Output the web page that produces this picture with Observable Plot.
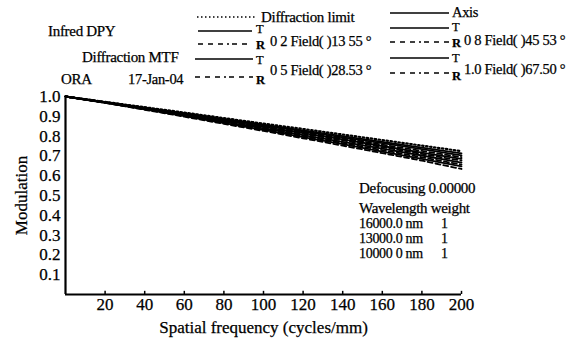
<!DOCTYPE html>
<html>
<head>
<meta charset="utf-8">
<script src="https://cdn.jsdelivr.net/npm/d3@7"></script>
<script src="https://cdn.jsdelivr.net/npm/@observablehq/plot@0.6"></script>
<style>
  html, body { margin: 0; padding: 0; background: #fff; }
  #wrap { position: relative; width: 586px; height: 345px; }
  #wrap svg { position: absolute; left: 0; top: 0; }
  #wrap svg text { stroke: #000; stroke-width: 0.25px; }
  .serif { font-family: "Liberation Serif", "DejaVu Serif", serif; fill: #000; }
</style>
</head>
<body>
<div id="wrap"></div>
<script>
// ---- data ----
const freqs = [0, 20, 40, 60, 80, 100, 120, 140, 160, 180, 200];
const xTicks = [20, 40, 60, 80, 100, 120, 140, 160, 180, 200];
const yTicks = [0.1, 0.2, 0.3, 0.4, 0.5, 0.6, 0.7, 0.8, 0.9, 1.0];

const diffLimit = [1.0, 0.973, 0.946, 0.919, 0.891, 0.863, 0.836, 0.808, 0.780, 0.752, 0.724];
const axisT     = [1.0, 0.972, 0.944, 0.916, 0.887, 0.858, 0.829, 0.800, 0.771, 0.742, 0.713];
const f02T      = [1.0, 0.971, 0.942, 0.913, 0.883, 0.854, 0.824, 0.794, 0.764, 0.734, 0.703];
const f02R      = [1.0, 0.971, 0.941, 0.911, 0.881, 0.851, 0.820, 0.789, 0.757, 0.725, 0.694];
const f05T      = [1.0, 0.970, 0.940, 0.909, 0.878, 0.847, 0.815, 0.783, 0.750, 0.717, 0.685];
const f05R      = [1.0, 0.970, 0.939, 0.907, 0.875, 0.843, 0.811, 0.778, 0.744, 0.710, 0.676];
const f08T      = [1.0, 0.969, 0.937, 0.905, 0.872, 0.839, 0.805, 0.771, 0.737, 0.702, 0.666];
const f08R      = [1.0, 0.969, 0.936, 0.903, 0.869, 0.835, 0.800, 0.765, 0.729, 0.693, 0.656];
const f10T      = [1.0, 0.968, 0.935, 0.901, 0.866, 0.831, 0.795, 0.759, 0.722, 0.685, 0.647];
const f10R      = [1.0, 0.968, 0.933, 0.898, 0.862, 0.826, 0.789, 0.752, 0.714, 0.676, 0.634];

const seriesDefs = [
  {name: "Diffraction limit", style: "dotted", values: diffLimit},
  {name: "Axis", style: "solid", values: axisT},
  {name: "0.2 T", style: "solid", values: f02T},
  {name: "0.2 R", style: "dashed", values: f02R},
  {name: "0.5 T", style: "solid", values: f05T},
  {name: "0.5 R", style: "dashed", values: f05R},
  {name: "0.8 T", style: "solid", values: f08T},
  {name: "0.8 R", style: "dashed", values: f08R},
  {name: "1.0 T", style: "solid", values: f10T},
  {name: "1.0 R", style: "dashed", values: f10R}
];

const rows = seriesDefs.flatMap(s => s.values.map((v, i) => ({series: s.name, style: s.style, freq: freqs[i], value: v})));

const FONT = '"Liberation Serif", "DejaVu Serif", serif';

const chart = Plot.plot({
  width: 586,
  height: 345,
  marginLeft: 65,
  marginRight: 125,
  marginTop: 96,
  marginBottom: 51,
  style: {fontFamily: FONT, fontSize: "17px", background: "transparent", color: "#000", overflow: "visible"},
  x: {domain: [0, 200], label: null},
  y: {domain: [0, 1], label: null},
  marks: [
    Plot.line(rows.filter(d => d.style === "solid"), {x: "freq", y: "value", z: "series", stroke: "#000", strokeWidth: 1.8}),
    Plot.line(rows.filter(d => d.style === "dashed"), {x: "freq", y: "value", z: "series", stroke: "#000", strokeWidth: 1.8, strokeDasharray: "5,3"}),
    Plot.line(rows.filter(d => d.style === "dotted"), {x: "freq", y: "value", z: "series", stroke: "#000", strokeWidth: 2.2, strokeDasharray: "1.5,2.5"}),
    Plot.ruleX(xTicks, {y1: 0, y2: 0.016, stroke: "#000", strokeWidth: 1.5}),
    Plot.ruleX([0], {y1: 0, y2: 1, stroke: "#000", strokeWidth: 2.2}),
    Plot.ruleY([0], {x1: 0, x2: 200, stroke: "#000", strokeWidth: 2.2}),
    Plot.axisX({ticks: xTicks, tickSize: 0, tickPadding: 3, fontSize: 17,
      label: "Spatial frequency (cycles/mm)", labelAnchor: "center", labelArrow: "none", labelOffset: 38}),
    Plot.axisY({ticks: yTicks, tickSize: 0, tickPadding: 5, fontSize: 17, tickFormat: d => d.toFixed(1),
      label: "Modulation", labelAnchor: "center", labelArrow: "none", labelOffset: 51})
  ]
});

const wrap = document.getElementById("wrap");
wrap.appendChild(chart);

// ---- legend / annotation overlay ----
const legendTexts = [
  {t: "Infred DPY", x: 48, y: 36, s: 15},
  {t: "Diffraction MTF", x: 82, y: 62, s: 15},
  {t: "ORA", x: 61, y: 84, s: 15},
  {t: "17-Jan-04", x: 128, y: 84, s: 14.5},
  {t: "Diffraction limit", x: 261, y: 22, s: 15},
  {t: "Axis", x: 452, y: 17, s: 14.5},
  {t: "0 2  Field( )13 55  \u00B0", x: 270, y: 46, s: 14.5},
  {t: "0 5  Field( )28.53  \u00B0", x: 270, y: 75, s: 14.5},
  {t: "0 8  Field( )45 53  \u00B0", x: 464, y: 45, s: 14.5},
  {t: "1.0  Field( )67.50  \u00B0", x: 464, y: 74, s: 14.5},
  {t: "Defocusing 0.00000", x: 359, y: 193, s: 15},
  {t: "Wavelength weight", x: 359, y: 213, s: 15},
  {t: "16000.0 nm", x: 359, y: 228, s: 14},
  {t: "13000.0 nm", x: 359, y: 243, s: 14},
  {t: "10000 0 nm", x: 359, y: 258, s: 14},
  {t: "1", x: 441, y: 228, s: 14},
  {t: "1", x: 441, y: 243, s: 14},
  {t: "1", x: 441, y: 258, s: 14}
];
const tr = [
  {t: "T", x: 256, y: 33}, {t: "R", x: 256, y: 49},
  {t: "T", x: 256, y: 64}, {t: "R", x: 256, y: 84},
  {t: "T", x: 452, y: 31}, {t: "R", x: 452, y: 47},
  {t: "T", x: 452, y: 62}, {t: "R", x: 452, y: 80}
];
const DASH = "5,5,5,5,5,4,2,3";
const legendLines = [
  {x1: 197, x2: 257, y: 17, dash: "1.5,2.5"},
  {x1: 198, x2: 252, y: 31, dash: null},
  {x1: 198, x2: 252, y: 44, dash: DASH},
  {x1: 195, x2: 253, y: 59, dash: null},
  {x1: 195, x2: 253, y: 77, dash: DASH},
  {x1: 390, x2: 449, y: 13, dash: null},
  {x1: 390, x2: 449, y: 28, dash: null},
  {x1: 390, x2: 449, y: 42, dash: DASH},
  {x1: 390, x2: 449, y: 58, dash: null},
  {x1: 390, x2: 449, y: 73, dash: DASH}
];

const ns = "http://www.w3.org/2000/svg";
const ov = document.createElementNS(ns, "svg");
ov.setAttribute("width", 586);
ov.setAttribute("height", 345);
for (const l of legendLines) {
  const e = document.createElementNS(ns, "line");
  e.setAttribute("x1", l.x1); e.setAttribute("x2", l.x2);
  e.setAttribute("y1", l.y); e.setAttribute("y2", l.y);
  e.setAttribute("stroke", "#000");
  e.setAttribute("stroke-width", 1.7);
  if (l.dash) e.setAttribute("stroke-dasharray", l.dash);
  ov.appendChild(e);
}
for (const d of legendTexts) {
  const e = document.createElementNS(ns, "text");
  e.setAttribute("x", d.x); e.setAttribute("y", d.y);
  e.setAttribute("class", "serif");
  e.setAttribute("font-size", d.s);
  e.setAttribute("letter-spacing", "-0.3");
  e.textContent = d.t;
  ov.appendChild(e);
}
for (const d of tr) {
  const e = document.createElementNS(ns, "text");
  e.setAttribute("x", d.x); e.setAttribute("y", d.y);
  e.setAttribute("class", "serif");
  e.setAttribute("font-size", 12.5);
  e.setAttribute("font-weight", d.t === "R" ? "bold" : "normal");
  e.textContent = d.t;
  ov.appendChild(e);
}
wrap.appendChild(ov);
</script>
</body>
</html>
